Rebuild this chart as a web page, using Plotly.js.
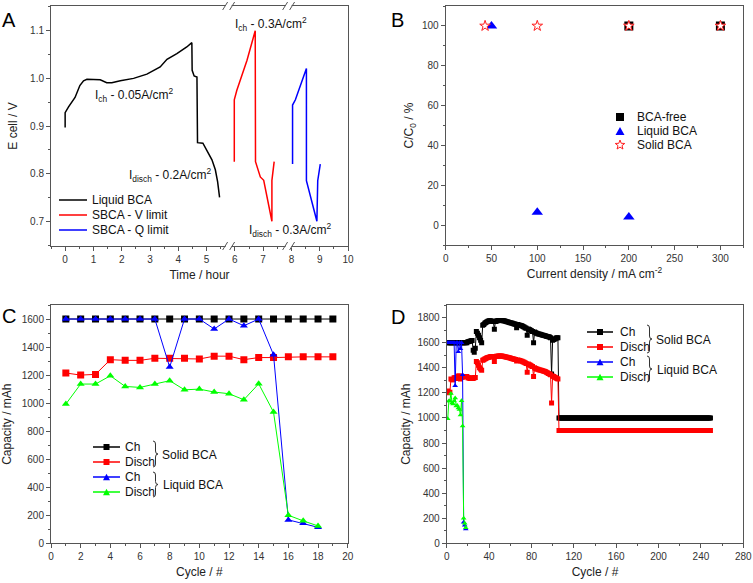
<!DOCTYPE html>
<html>
<head>
<meta charset="utf-8">
<script src="https://cdn.plot.ly/plotly-3.0.1.min.js"></script>
<style>html,body{margin:0;padding:0;background:#fff;}#chart{width:753px;height:583px;}</style>
</head>
<body>
<div id="chart"></div>
<script>
// ---------- Panel A: cell voltage vs time ----------
const liquidTime = [0,0,0.12,0.35,0.52,0.65,0.77,1.12,1.24,1.47,1.65,1.95,2.42,2.89,3.36,3.6,3.95,4.3,4.48,4.49,4.56,4.66,4.68,4.87,5.01,5.19,5.31,5.39,5.46];
const liquidE    = [0.897,0.928,0.94,0.96,0.985,0.995,0.998,0.998,0.997,0.991,0.991,0.995,1.0,1.009,1.024,1.04,1.052,1.066,1.075,1.017,1.005,1.003,0.865,0.864,0.85,0.829,0.808,0.783,0.75];
const vLimitTime = [5.98,5.98,6.07,6.43,6.72,6.73,6.9,7.02,7.31,7.31,7.39];
const vLimitE    = [0.825,0.955,0.975,1.038,1.1,0.825,0.793,0.786,0.70,0.786,0.825];
const qLimitTime = [8.04,8.04,8.14,8.53,8.53,8.9,8.93,9.02];
const qLimitE    = [0.82,0.944,0.955,1.021,0.785,0.70,0.785,0.82];

// ---------- Panel B: capacity retention vs current density ----------
const bcaFreeX = [200,300];
const bcaFreeY = [100,100];
const liquidBX = [50,100,200];
const liquidBY = [100,6.5,4];
const solidBX  = [43,100,200,300];
const solidBY  = [100,100,100,100];

// ---------- Panel C: capacity vs cycle ----------
const solidCycles  = [1,2,3,4,5,6,7,8,9,10,11,12,13,14,15,16,17,18,19];
const solidCh      = [1600,1600,1600,1600,1600,1600,1600,1600,1600,1600,1600,1600,1600,1600,1600,1600,1600,1600,1600];
const solidDisch   = [1215,1200,1205,1310,1305,1305,1320,1320,1320,1315,1335,1335,1310,1325,1325,1330,1330,1330,1330];
const liquidCycles = [1,2,3,4,5,6,7,8,9,10,11,12,13,14,15,16,17,18];
const liquidCh     = [1600,1600,1600,1600,1600,1600,1600,1257,1600,1600,1529,1600,1552,1600,1345,167,143,114];
const liquidDisch  = [993,1136,1136,1195,1119,1112,1136,1160,1095,1100,1079,1067,1024,1138,936,200,160,124];

// ---------- Panel D: long cycling ----------
const dSolidCh = [
 1600,1600,1600,1600,1600,1600,1600,1600,1600,1600,1600,1600,1600,1600,1600,1600,1600,1600,1600,
 1608,1610,1612,1615,1618,1540,1525,1555,1690,1675,1660,1640,1620,1600,1740,1745,1755,1762,1768,1772,
 1775,1776,1774,1772,1770,1708,1770,1774,1776,1777,1778,1778,1777,1776,1775,1773,1770,1768,1765,1762,
 1760,1758,1755,1752,1750,1748,1720,1745,1742,1740,1738,1735,1730,1725,1720,1715,1660,1710,1705,1700,
 1695,1690,1600,1685,1680,1675,1672,1670,1668,1665,1662,1660,1658,1655,1652,1650,1648,1645,1640,1350,
 1620,1625,1630,1635,1640,1640];
const dSolidDisch = [
 1215,1200,1205,1310,1305,1305,1320,1320,1320,1315,1335,1335,1310,1325,1325,1330,1330,1330,1330,
 1320,1318,1315,1318,1320,1315,1320,1322,1450,1440,1420,1400,1390,1380,1460,1465,1470,1475,1480,1483,
 1485,1488,1490,1490,1488,1450,1490,1492,1493,1494,1495,1495,1494,1492,1490,1488,1486,1484,1482,1480,
 1478,1475,1472,1470,1468,1466,1455,1463,1460,1458,1455,1452,1448,1445,1440,1435,1365,1430,1425,1420,
 1415,1410,1330,1400,1395,1390,1388,1385,1382,1380,1378,1375,1372,1370,1365,1360,1355,1350,1345,1120,
 1335,1330,1325,1320,1315,1310];
const dLateCh = [
 1000,1000,1000,1000,1000,1000,1000,1000,1000,1000,1000,1000,
 1000,1000,1000,1000,1000,1000,1000,1000,1000,1000,1000,1000,
 1000,1000,1000,1000,1000,1000,1000,1000,1000,1000,1000,1000,
 1000,1000,1000,1000,1000,1000,1000,1000,1000,1000,1000,1000,
 1000,1000,1000,1000,1000,1000,1000,1000,1000,1000,1000,1000,
 1000,1000,1000,1000,1000,1000,1000,1000,1000,1000,1000,1000,
 1000,1000,1000,1000,1000,1000,1000,1000,1000,1000,1000,1000,
 1000,1000,1000,1000,1000,1000,1000,1000,1000,1000,1000,1000,
 1000,1000,1000,1000,1000,1000,1000,1000,1000,1000,1000,1000,
 1000,1000,1000,1000,1000,1000,1000,1000,1000,1000,1000,1000,
 1000,1000,1000,1000,1000,1000,1000,1000,1000,1000,1000,1000,
 1000,1000,1000,1000,1000,1000,1000,1000,1000,1000,1000,1000];
const dLateDisch = [
 900,900,900,900,900,900,900,900,900,900,900,900,
 900,900,900,900,900,900,900,900,900,900,900,900,
 900,900,900,900,900,900,900,900,900,900,900,900,
 900,900,900,900,900,900,900,900,900,900,900,900,
 900,900,900,900,900,900,900,900,900,900,900,900,
 900,900,900,900,900,900,900,900,900,900,900,900,
 900,900,900,900,900,900,900,900,900,900,900,900,
 900,900,900,900,900,900,900,900,900,900,900,900,
 900,900,900,900,900,900,900,900,900,900,900,900,
 900,900,900,900,900,900,900,900,900,900,900,900,
 900,900,900,900,900,900,900,900,900,900,900,900,
 900,900,900,900,900,900,900,900,900,900,900,900];

// cycle index axis for panel D (cycle numbers 1..N)
const dAllCh = dSolidCh.concat(dLateCh);
const dAllDisch = dSolidDisch.concat(dLateDisch);
const dCycles = dAllCh.map((_, i) => i + 1);

// ---------- styling ----------
const FONT = 'Arial, "Liberation Sans", Helvetica, sans-serif';
const AXC = '#555555';
const TXC = '#333333';
const W = 753, H = 583;
const px = x => x / W;
const py = y => 1 - y / H;

function axis(domain, range, dtick, minorDtick, title, standoff, extra) {
  return Object.assign({
    domain: domain, range: range, dtick: dtick, tick0: 0,
    ticks: 'outside', ticklen: 4, tickwidth: 1, tickcolor: AXC,
    minor: {dtick: minorDtick, ticks: 'outside', ticklen: 2, tickwidth: 1, tickcolor: AXC, showgrid: false},
    showline: true, linecolor: AXC, linewidth: 1, mirror: true,
    showgrid: false, zeroline: false,
    tickfont: {family: FONT, size: 10, color: TXC},
    title: {text: title, font: {family: FONT, size: 12, color: '#222'}, standoff: standoff},
    fixedrange: true
  }, extra || {});
}

const traces = [
  // A
  {x: liquidTime, y: liquidE, xaxis: 'x', yaxis: 'y', mode: 'lines', line: {color: '#000000', width: 1.5}},
  {x: vLimitTime, y: vLimitE, xaxis: 'x', yaxis: 'y', mode: 'lines', line: {color: '#ff0000', width: 1.5}},
  {x: qLimitTime, y: qLimitE, xaxis: 'x', yaxis: 'y', mode: 'lines', line: {color: '#0000ff', width: 1.5}},
  // B
  {x: bcaFreeX, y: bcaFreeY, xaxis: 'x2', yaxis: 'y2', mode: 'markers', marker: {symbol: 'square', size: 9, color: '#000'}},
  {x: liquidBX, y: liquidBY, xaxis: 'x2', yaxis: 'y2', mode: 'markers', marker: {symbol: 'triangle-up', size: 10, color: '#0000ff'}},
  {x: solidBX, y: solidBY, xaxis: 'x2', yaxis: 'y2', mode: 'markers', marker: {symbol: 'star', size: 8, color: '#ffffff', line: {color: '#ff2020', width: 1}}},
  // C
  {x: solidCycles, y: solidCh, xaxis: 'x3', yaxis: 'y3', mode: 'lines+markers', line: {color: '#000', width: 1}, marker: {symbol: 'square', size: 7, color: '#000'}},
  {x: solidCycles, y: solidDisch, xaxis: 'x3', yaxis: 'y3', mode: 'lines+markers', line: {color: '#ff0000', width: 1}, marker: {symbol: 'square', size: 7, color: '#ff0000'}},
  {x: liquidCycles, y: liquidCh, xaxis: 'x3', yaxis: 'y3', mode: 'lines+markers', line: {color: '#0000ff', width: 1}, marker: {symbol: 'triangle-up', size: 7, color: '#0000ff'}},
  {x: liquidCycles, y: liquidDisch, xaxis: 'x3', yaxis: 'y3', mode: 'lines+markers', line: {color: '#00ff00', width: 1}, marker: {symbol: 'triangle-up', size: 7, color: '#00ff00'}},
  // D
  {x: dCycles, y: dAllCh, xaxis: 'x4', yaxis: 'y4', mode: 'lines+markers', line: {color: '#000', width: 1}, marker: {symbol: 'square', size: 5, color: '#000'}},
  {x: dCycles, y: dAllDisch, xaxis: 'x4', yaxis: 'y4', mode: 'lines+markers', line: {color: '#ff0000', width: 1}, marker: {symbol: 'square', size: 5, color: '#ff0000'}},
  {x: liquidCycles, y: liquidCh, xaxis: 'x4', yaxis: 'y4', mode: 'lines+markers', line: {color: '#0000ff', width: 1}, marker: {symbol: 'triangle-up', size: 5, color: '#0000ff'}},
  {x: liquidCycles, y: liquidDisch, xaxis: 'x4', yaxis: 'y4', mode: 'lines+markers', line: {color: '#00ff00', width: 1}, marker: {symbol: 'triangle-up', size: 5, color: '#00ff00'}}
];

// ---------- legend keys & decorations (layout shapes / annotations) ----------
const shapes = [];
const annotations = [];

function keyLine(x0, x1, y, color) {
  shapes.push({type: 'line', xref: 'paper', yref: 'paper', x0: px(x0), x1: px(x1), y0: py(y), y1: py(y), line: {color: color, width: 1.5}});
}
function keySquare(cx, cy, s, color) {
  shapes.push({type: 'rect', xref: 'paper', yref: 'paper', x0: px(cx - s/2), x1: px(cx + s/2), y0: py(cy + s/2), y1: py(cy - s/2), fillcolor: color, line: {width: 0}});
}
function keyTri(cx, cy, s, color) {
  const h = s * 0.9;
  const p = 'M' + px(cx - s/2) + ',' + py(cy + h/2) + ' L' + px(cx + s/2) + ',' + py(cy + h/2) + ' L' + px(cx) + ',' + py(cy - h/2) + ' Z';
  shapes.push({type: 'path', xref: 'paper', yref: 'paper', path: p, fillcolor: color, line: {width: 0}});
}
function keyStar(cx, cy, R, color) {
  let p = '';
  for (let i = 0; i < 10; i++) {
    const r = i % 2 === 0 ? R : R * 0.42;
    const a = -Math.PI / 2 + i * Math.PI / 5;
    p += (i === 0 ? 'M' : ' L') + px(cx + r * Math.cos(a)) + ',' + py(cy + r * Math.sin(a));
  }
  shapes.push({type: 'path', xref: 'paper', yref: 'paper', path: p + ' Z', fillcolor: '#fff', line: {color: color, width: 1}});
}
function keyText(x, y, text, size) {
  annotations.push({xref: 'paper', yref: 'paper', x: px(x), y: py(y), xanchor: 'left', yanchor: 'middle', text: text, showarrow: false, font: {family: FONT, size: size || 12, color: '#111'}});
}
function brace(x, y0, y1, w) {
  const ym = (y0 + y1) / 2, r = 3, xm = x + w / 2;
  const P = (a, b) => px(a) + ',' + py(b);
  const p = 'M' + P(x, y0) + ' Q' + P(xm, y0) + ' ' + P(xm, y0 + r) + ' L' + P(xm, ym - r) + ' Q' + P(xm, ym) + ' ' + P(x + w, ym) +
            ' Q' + P(xm, ym) + ' ' + P(xm, ym + r) + ' L' + P(xm, y1 - r) + ' Q' + P(xm, y1) + ' ' + P(x, y1);
  shapes.push({type: 'path', xref: 'paper', yref: 'paper', path: p, line: {color: '#333', width: 1}});
}

// Panel A legend
keyLine(59, 87, 200, '#000'); keyText(90, 200, 'Liquid BCA');
keyLine(59, 87, 215, '#ff0000'); keyText(90, 215, 'SBCA - V limit');
keyLine(59, 87, 230, '#0000ff'); keyText(90, 230, 'SBCA - Q limit');

// Panel B legend
keySquare(620, 117, 8, '#000'); keyText(635, 117, 'BCA-free');
keyTri(620, 131, 9, '#0000ff'); keyText(635, 131, 'Liquid BCA');
keyStar(620, 145, 5, '#ff2020'); keyText(635, 145, 'Solid BCA');

// Panel C legend
keyLine(93, 120, 447, '#000'); keySquare(106.5, 447, 6, '#000'); keyText(123, 447, 'Ch');
keyLine(93, 120, 462, '#ff0000'); keySquare(106.5, 462, 6, '#ff0000'); keyText(123, 462, 'Disch');
keyLine(93, 120, 477, '#0000ff'); keyTri(106.5, 477, 7, '#0000ff'); keyText(123, 477, 'Ch');
keyLine(93, 120, 492, '#00ff00'); keyTri(106.5, 492, 7, '#00ff00'); keyText(123, 492, 'Disch');
brace(153, 441, 467, 5); keyText(160, 455, 'Solid BCA');
brace(153, 472, 497, 5); keyText(161, 485, 'Liquid BCA');

// Panel D legend
keyLine(587, 613, 332, '#000'); keySquare(600, 332, 6, '#000'); keyText(618, 332, 'Ch');
keyLine(587, 613, 347, '#ff0000'); keySquare(600, 347, 6, '#ff0000'); keyText(618, 347, 'Disch');
keyLine(587, 613, 362, '#0000ff'); keyTri(600, 362, 7, '#0000ff'); keyText(618, 362, 'Ch');
keyLine(587, 613, 377, '#00ff00'); keyTri(600, 377, 7, '#00ff00'); keyText(618, 377, 'Disch');
brace(647, 325, 353, 5); keyText(654, 340, 'Solid BCA');
brace(647, 356, 382, 5); keyText(655, 370, 'Liquid BCA');

// Panel A axis-break marks on top and bottom axis lines
const breakAt = [5.78, 7.9];
const yBottomA = py(246), yTopA = py(6);
breakAt.forEach(b => {
  [yBottomA, yTopA].forEach(ya => {
    shapes.push({type: 'rect', xref: 'x', yref: 'paper', xsizemode: 'pixel', ysizemode: 'pixel', xanchor: b, yanchor: ya, x0: -3, x1: 3, y0: -2, y1: 2, fillcolor: '#fff', line: {width: 0}});
    shapes.push({type: 'line', xref: 'x', yref: 'paper', xsizemode: 'pixel', ysizemode: 'pixel', xanchor: b, yanchor: ya, x0: -6, x1: -1, y0: -4, y1: 4, line: {color: AXC, width: 1}});
    shapes.push({type: 'line', xref: 'x', yref: 'paper', xsizemode: 'pixel', ysizemode: 'pixel', xanchor: b, yanchor: ya, x0: 1, x1: 6, y0: -4, y1: 4, line: {color: AXC, width: 1}});
  });
});

// Panel A current annotations
const annFont = {family: FONT, size: 12, color: '#111'};
annotations.push({xref: 'x', yref: 'y', x: 0.99, y: 0.965, xanchor: 'left', yanchor: 'middle', showarrow: false, text: 'I<sub>ch</sub> - 0.05A/cm<sup>2</sup>', font: annFont});
annotations.push({xref: 'x', yref: 'y', x: 2.18, y: 0.797, xanchor: 'left', yanchor: 'middle', showarrow: false, text: 'I<sub>disch</sub> - 0.2A/cm<sup>2</sup>', font: annFont});
annotations.push({xref: 'x', yref: 'y', x: 5.95, y: 1.114, xanchor: 'left', yanchor: 'middle', showarrow: false, text: 'I<sub>ch</sub> - 0.3A/cm<sup>2</sup>', font: annFont});
annotations.push({xref: 'x', yref: 'y', x: 6.43, y: 0.682, xanchor: 'left', yanchor: 'middle', showarrow: false, text: 'I<sub>disch</sub> - 0.3A/cm<sup>2</sup>', font: annFont});

// Panel letters
const letterFont = {family: FONT, size: 20, color: '#000'};
[['A', 9, 20], ['B', 397, 20], ['C', 9, 316], ['D', 398, 317]].forEach(l => {
  annotations.push({xref: 'paper', yref: 'paper', x: px(l[1]), y: py(l[2]), xanchor: 'center', yanchor: 'middle', showarrow: false, text: l[0], font: letterFont});
});

const layout = {
  width: W, height: H,
  margin: {l: 0, r: 0, t: 0, b: 0},
  paper_bgcolor: '#fff', plot_bgcolor: '#fff',
  showlegend: false,
  font: {family: FONT},
  xaxis:  axis([px(51), px(348)], [-0.5, 10], 1, 0.5, 'Time / hour', 6, {anchor: 'y'}),
  yaxis:  axis([py(246), py(6)], [0.648, 1.152], 0.1, 0.05, 'E cell / V', 9, {anchor: 'x', tickformat: '.1f'}),
  xaxis2: axis([px(445.7), px(743.3)], [0, 325], 50, 25, 'Current density / mA cm<sup>-2</sup>', 6, {anchor: 'y2'}),
  yaxis2: axis([py(245), py(6)], [-10, 110], 20, 10, 'C/C<sub>0</sub> / %', 5, {anchor: 'x2'}),
  xaxis3: axis([px(51), px(347.7)], [0, 20], 2, 1, 'Cycle / #', 6, {anchor: 'y3'}),
  yaxis3: axis([py(543.3), py(305)], [0, 1700], 200, 100, 'Capacity / mAh', 9, {anchor: 'x3'}),
  xaxis4: axis([px(446.7), px(743.3)], [0, 280], 40, 20, 'Cycle / #', 6, {anchor: 'y4'}),
  yaxis4: axis([py(543.3), py(305)], [0, 1901], 200, 100, 'Capacity / mAh', 4, {anchor: 'x4'}),
  shapes: shapes,
  annotations: annotations
};

Plotly.newPlot('chart', traces, layout, {staticPlot: true, displayModeBar: false});
</script>
</body>
</html>
